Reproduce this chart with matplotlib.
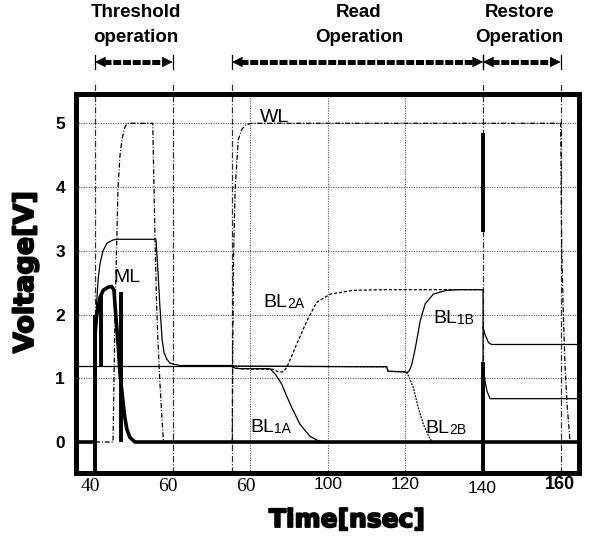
import matplotlib
matplotlib.use("Agg")
import matplotlib.pyplot as plt
import matplotlib.patheffects as pe

# ---------------- data ----------------
# threshold-phase thin solid curve (precharge -> 3.2 V -> back)
thr_t = [40.0, 40.2, 40.44, 40.8, 41.29, 42.06, 43.09, 44.64, 45.67, 55.7, 56.2, 56.7,
         57.3, 57.8, 58.5, 59.3, 60.2, 61.9, 75.3]
thr_v = [1.2, 1.8, 2.2, 2.55, 2.8, 3.0, 3.12, 3.17, 3.18, 3.18, 2.7, 2.15,
         1.6, 1.4, 1.3, 1.24, 1.22, 1.2, 1.2]

# precharge level of the bit lines before the read
pre_t = [34.97, 75.3]
pre_v = [1.2, 1.2]

# word line WL (dash-dot)
wl_t = [40.0, 44.64, 44.9, 45.15, 45.54, 45.93, 46.44, 46.96, 47.6, 48.25, 54.87, 55.2,
        55.46, 55.85, 56.24, 56.75, 57.27, 57.65, 75.35, 75.5, 75.7, 76.1, 76.9, 77.8,
        78.7, 80.4, 160.0, 160.26, 160.7, 161.1, 161.7, 162.4]
wl_v = [0.0, 0.0, 1.0, 2.0, 3.0, 4.0, 4.5, 4.75, 4.92, 5.0, 5.0, 4.0,
        3.2, 2.2, 1.55, 0.9, 0.35, 0.0, 0.0, 1.5, 2.9, 3.95, 4.74, 4.9,
        4.97, 5.0, 5.0, 3.06, 2.0, 1.23, 0.55, 0.03]

# match line ML (thick)
ml_t = [34.97, 40.0, 40.02, 40.44, 41.3, 42.1, 43.4, 44.3, 44.9, 45.15, 45.6, 46.0,
        46.4, 47.0, 47.6, 48.2, 49.0, 50.3, 164.6]
ml_v = [0.0, 0.0, 1.7, 2.0, 2.27, 2.38, 2.43, 2.44, 2.38, 2.15, 1.8, 1.5,
        1.1, 0.75, 0.42, 0.2, 0.07, 0.0, 0.0]

# bit lines during the read
bl1a_t = [75.3, 76.0, 77.5, 85.1, 86.5, 88.1, 89.4, 90.7, 92.8, 95.4, 97.5, 99.3, 140.0]
bl1a_v = [1.2, 1.16, 1.15, 1.15, 1.06, 0.91, 0.72, 0.54, 0.28, 0.09, 0.02, 0.0, 0.0]

bl2a_t = [75.3, 76.0, 77.5, 86.0, 87.2, 88.5, 89.4, 90.7, 92.0, 94.6, 97.1, 100.6,
          106.5, 115.2, 140.0]
bl2a_v = [1.2, 1.16, 1.15, 1.14, 1.1, 1.1, 1.17, 1.35, 1.54, 1.9, 2.19, 2.32,
          2.38, 2.39, 2.39]

bl1b_t = [75.3, 76.0, 115.2, 115.5, 120.0, 120.3, 121.0, 121.6, 122.3, 122.9, 123.8,
          125.1, 127.2, 130.6, 134.1, 140.0, 140.0]
bl1b_v = [1.2, 1.19, 1.18, 1.11, 1.1, 1.08, 1.12, 1.21, 1.4, 1.59, 1.9,
          2.17, 2.32, 2.38, 2.39, 2.39, 1.25]

bl2b_t = [75.3, 76.0, 115.2, 115.5, 120.3, 120.7, 122.0, 123.3, 124.6, 126.3, 127.1, 140.0]
bl2b_v = [1.2, 1.19, 1.18, 1.11, 1.1, 1.05, 0.86, 0.54, 0.28, 0.05, 0.0, 0.0]

# restore phase
rs_hi_t = [140.0, 140.5, 141.4, 142.2, 164.6]
rs_hi_v = [1.80, 1.69, 1.56, 1.53, 1.53]
rs_lo_t = [140.0, 140.5, 141.0, 141.8, 164.6]
rs_lo_v = [1.23, 0.96, 0.80, 0.68, 0.68]

# thick vertical strokes in the scan: (time, v_from, v_to)
bars = [(40.0, -0.5, 2.0), (41.45, 1.2, 2.3), (46.65, 0.0, 2.35),
        (140.0, -0.5, 1.25), (140.0, 3.29, 4.84)]

# phase boundaries and grid
bounds = [40, 60, 75.3, 140, 160]
grid_x = [80, 100, 120]
grid_y = [1, 2, 3, 4, 5]

ytick_vals = [0, 1, 2, 3, 4, 5]
xtick_pos = [38.7, 58.8, 78.9, 100.05, 119.9, 139.7, 159.8]
xtick_lab = ["40", "60", "60", "100", "120", "140", "160"]

phases = [("Threshold\noperation", 50.6, 40, 60),
          ("Read\nOperation", 108.0, 75.3, 140),
          ("Restore\nOperation", 149.3, 140, 160)]

# ---------------- figure ----------------
W, H = 594, 536
fig = plt.figure(figsize=(W / 100, H / 100), dpi=100)
ax = fig.add_axes([75.5 / W, 1 - 473 / H, 503 / W, 379.5 / H])
ax.set_xlim(34.97, 164.6)
ax.set_ylim(-0.486, 5.467)

for s in ax.spines.values():
    s.set_linewidth(3.6)
    s.set_zorder(10)

# grid
for y in grid_y:
    ax.axhline(y, color="#555555", lw=0.8, dashes=(1.0, 1.2), zorder=1)
for x in grid_x:
    ax.axvline(x, color="#555555", lw=0.8, dashes=(1.0, 1.2), zorder=1)
xt = ax.get_xaxis_transform()
for x in bounds:
    ax.plot([x, x], [0, 1.03], transform=xt, color="#333333", lw=0.9,
            dashes=(5, 1.5, 1, 1.5), clip_on=False, zorder=1)

# curves
ax.plot(pre_t, pre_v, color="k", lw=0.9, zorder=3)
ax.plot(thr_t, thr_v, color="k", lw=0.9, zorder=3)
ax.plot(wl_t, wl_v, color="k", lw=0.9, dashes=(4.0, 1.5, 0.8, 1.5), zorder=3)
ax.plot(bl1a_t, bl1a_v, color="k", lw=0.9, zorder=3)
ax.plot(bl2a_t, bl2a_v, color="k", lw=0.9, dashes=(2.5, 1.5), zorder=3)
ax.plot(bl1b_t, bl1b_v, color="k", lw=0.9, zorder=3)
ax.plot(bl2b_t, bl2b_v, color="k", lw=0.9, dashes=(1.5, 1.0), zorder=3)
ax.plot(rs_hi_t, rs_hi_v, color="k", lw=0.9, zorder=3)
ax.plot(rs_lo_t, rs_lo_v, color="k", lw=0.9, zorder=3)
ax.plot(ml_t, ml_v, color="k", lw=2.6, zorder=4, solid_joinstyle="round")
for (x, a, b) in bars:
    ax.plot([x, x], [a, b], color="k", lw=2.8, zorder=5, solid_capstyle="butt")

# ticks
ax.set_xticks([])
ax.set_yticks(ytick_vals)
ax.set_yticklabels([str(v) for v in ytick_vals], fontsize=12.5, fontweight="bold",
                   family="Liberation Sans")
ax.tick_params(axis="y", length=0, pad=7.5)

xfonts = [dict(family="Liberation Serif", fontsize=14),
          dict(family="Liberation Serif", fontsize=14),
          dict(family="Liberation Serif", fontsize=14),
          dict(family="Liberation Sans", fontsize=12.5),
          dict(family="Liberation Sans", fontsize=12.5),
          dict(family="Liberation Sans", fontsize=12.5),
          dict(family="Liberation Sans", fontsize=13, fontweight="bold")]
xys = [-0.0368, -0.0368, -0.0368, -0.0303, -0.0303, -0.0408, -0.0303]
for p, lab, f, yy in zip(xtick_pos, xtick_lab, xfonts, xys):
    ax.text(p, yy, lab, transform=xt, ha="center", va="center", color="k", **f)

# axis titles
stroke = [pe.withStroke(linewidth=1.3, foreground="k")]
fig.text(347 / W, 1 - 520 / H, "Time[nsec]", ha="center", va="center",
         fontsize=18, fontweight="bold", family="DejaVu Sans", path_effects=stroke)
fig.text(26 / W, 1 - 272 / H, "Voltage[V]", ha="center", va="center", rotation=90,
         fontsize=19.5, fontweight="bold", family="DejaVu Sans", path_effects=stroke)

# curve labels
def lab(x, y, main, sub=None):
    t = ax.text(x, y, main, fontsize=14, family="Liberation Sans", va="baseline",
                ha="left", zorder=6)
    if sub:
        ax.annotate(sub, xy=(1, 0), xycoords=t, fontsize=10, family="Liberation Sans",
                    va="bottom", ha="left")

lab(82.5, 5.025, "WL")
lab(44.7, 2.515, "ML")
lab(83.3, 2.12, "BL", "2A")
lab(127.2, 1.86, "BL", "1B")
lab(80.0, 0.16, "BL", "1A")
lab(125.05, 0.136, "BL", "2B")

# phase headers and arrows
ya = (473 - 62) / 379.5
hl = 2.6  # arrow head length in time units (~10 px)
for name, cx, x0, x1 in phases:
    first, second = name.split("\n")
    ax.text(cx, (473 - 12.5) / 379.5, first, transform=xt, ha="center", va="center",
            fontsize=13.5, fontweight="bold", family="Liberation Sans")
    ax.text(cx, (473 - 38) / 379.5, second, transform=xt, ha="center", va="center",
            fontsize=13.5, fontweight="bold", family="Liberation Sans")
    for x in (x0, x1):
        ax.plot([x, x], [(473 - 55) / 379.5, (473 - 69) / 379.5], transform=xt,
                color="k", lw=0.9, clip_on=False)
    # striped shaft
    ax.plot([x0 + hl * 0.8, x1 - hl * 0.8], [ya, ya], transform=xt, color="k",
            lw=3.6, dashes=(1.6, 0.35), clip_on=False, solid_capstyle="butt")
    # heads
    for tip, tail in ((x0, x0 + hl), (x1, x1 - hl)):
        ax.annotate("", xy=(tip, ya), xytext=(tail, ya), xycoords=xt, textcoords=xt,
                    arrowprops=dict(arrowstyle="-|>", color="k", lw=0.5,
                                    mutation_scale=17, shrinkA=0, shrinkB=0),
                    annotation_clip=False)

fig.savefig("out.png", dpi=100)
